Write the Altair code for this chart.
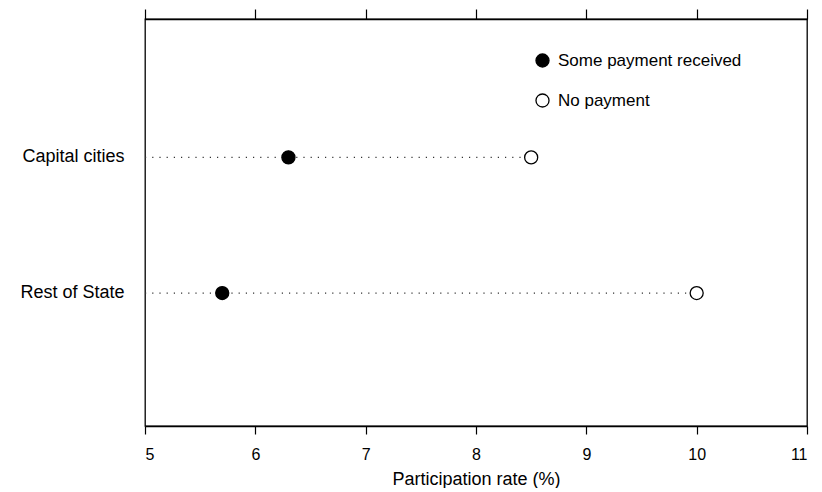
import altair as alt
import pandas as pd

regions = ["Capital cities", "Rest of State"]
some_payment = [6.3, 5.7]
no_payment = [8.5, 10.0]
groups = ["Some payment received", "No payment"]
x_ticks = [5, 6, 7, 8, 9, 10, 11]

rows = []
for r, s, n in zip(regions, some_payment, no_payment):
    rows.append({"region": r, "group": groups[0], "value": s})
    rows.append({"region": r, "group": groups[1], "value": n})
df = pd.DataFrame(rows)

rule_df = pd.DataFrame({
    "region": regions,
    "start": [5] * len(regions),
    "end": [max(s, n) for s, n in zip(some_payment, no_payment)],
})

FONT = "Liberation Sans"
xscale = alt.Scale(domain=[5, 11], nice=False, zero=False)
yscale = alt.Scale(domain=regions, padding=1.02, align=0.51)

yaxis = alt.Axis(title=None, ticks=False, domain=False, labelFont=FONT, labelFontSize=18,
                 labelColor="black", labelPadding=21, minExtent=137, maxExtent=137)

rules = alt.Chart(rule_df).mark_rule(strokeDash=[1.2, 6], color="#333333", strokeWidth=1.3).encode(
    x=alt.X("start:Q", scale=xscale,
            axis=alt.Axis(orient="top", values=x_ticks, labels=False, title=None, tickSize=10,
                          tickColor="black", domainColor="black", grid=False, tickWidth=1.2,
                          domainWidth=1.3)),
    x2="end:Q",
    y=alt.Y("region:N", scale=yscale, axis=yaxis),
)

points = alt.Chart(df).mark_point(filled=True, shape="circle", size=170, stroke="black",
                                  strokeWidth=1.3, opacity=1).encode(
    x=alt.X("value:Q", scale=xscale,
            axis=alt.Axis(orient="bottom", values=x_ticks, format="d", title="Participation rate (%)",
                          tickSize=8, tickColor="black", domainColor="black", grid=False,
                          tickWidth=1.2, domainWidth=1.3,
                          labelFont=FONT, labelFontSize=16, labelColor="black", labelPadding=12,
                          titleFont=FONT, titleFontSize=18, titleFontWeight="normal",
                          titleColor="black", titlePadding=8)),
    y=alt.Y("region:N", scale=yscale, axis=yaxis),
    fill=alt.Fill("group:N", scale=alt.Scale(domain=groups, range=["black", "white"]),
                  legend=alt.Legend(title=None, orient="none", legendX=389, legendY=33,
                                    labelFont=FONT, labelFontSize=17, labelColor="black",
                                    labelLimit=400,
                                    symbolType="circle", symbolSize=170, symbolStrokeColor="black",
                                    symbolStrokeWidth=1.3, labelOffset=7, rowPadding=21)),
)

chart = alt.layer(rules, points).resolve_axis(x="independent").properties(
    width=662, height=407,
    padding={"left": 0, "top": 0, "right": 5, "bottom": 0},
    background="white",
).configure_view(stroke="black", strokeWidth=1.3)

chart.save("out.html", embed_options={"renderer": "svg", "actions": False})
